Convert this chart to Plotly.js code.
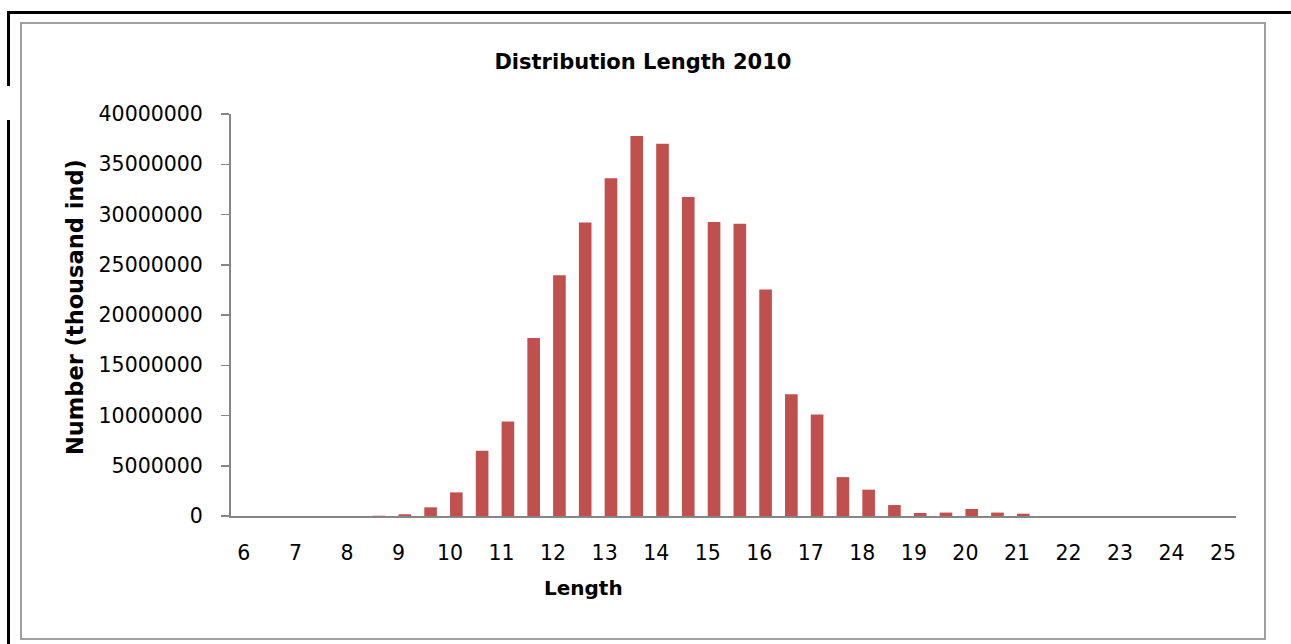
<!DOCTYPE html>
<html>
<head>
<meta charset="utf-8">
<script src="https://cdn.plot.ly/plotly-3.0.1.min.js"></script>
<style>
  html, body { margin: 0; padding: 0; background: #ffffff; }
  #wrap { position: relative; width: 1291px; height: 644px; overflow: hidden; background: #ffffff; }
  #chart { position: absolute; left: 0; top: 0; width: 1291px; height: 644px; }
  .rule { position: absolute; background: #000000; }
  .frame { position: absolute; border: 2px solid #a0a0a0; box-sizing: border-box; pointer-events: none; }
</style>
</head>
<body>
<div id="wrap">
  <div id="chart"></div>
  <!-- page rules around the chart object -->
  <div class="rule" style="left:7px; top:11px; width:1284px; height:3px;"></div>
  <div class="rule" style="left:7px; top:11px; width:3px; height:75px;"></div>
  <div class="rule" style="left:7px; top:120px; width:3px; height:524px;"></div>
  <!-- chart area border -->
  <div class="frame" style="left:20px; top:22px; width:1246px; height:618px;"></div>
</div>
<script>
// Length classes (half-unit steps) and number of individuals (thousand ind)
const lengths = [
  6, 6.5, 7, 7.5, 8, 8.5, 9, 9.5, 10, 10.5,
  11, 11.5, 12, 12.5, 13, 13.5, 14, 14.5, 15, 15.5,
  16, 16.5, 17, 17.5, 18, 18.5, 19, 19.5, 20, 20.5,
  21, 21.5, 22, 22.5, 23, 23.5, 24, 24.5, 25
];
const numbers = [
  0, 0, 0, 0, 0, 30000, 170000, 860000, 2350000, 6490000,
  9400000, 17700000, 23960000, 29200000, 33600000, 37800000, 37040000, 31750000, 29260000, 29070000,
  22540000, 12110000, 10100000, 3870000, 2620000, 1090000, 300000, 340000, 700000, 340000,
  230000, 0, 0, 0, 0, 0, 0, 0, 0
];
const xTickLabels = [6, 7, 8, 9, 10, 11, 12, 13, 14, 15, 16, 17, 18, 19, 20, 21, 22, 23, 24, 25];
const yTickValues = [0, 5000000, 10000000, 15000000, 20000000, 25000000, 30000000, 35000000, 40000000];

const chartTitle = 'Distribution Length 2010';
const xTitle = 'Length';
const yTitle = 'Number (thousand ind)';

const FONT = 'DejaVu Sans, Verdana, sans-serif';
const AXIS_GREY = '#868686';

const trace = {
  type: 'bar',
  x: lengths,
  y: numbers,
  width: 0.245,
  offset: 0,
  marker: { color: '#C0504D', line: { width: 0 } },
  hoverinfo: 'x+y'
};

const layout = {
  width: 1291,
  height: 644,
  margin: { l: 231, r: 55, t: 114, b: 128, pad: 0 },
  paper_bgcolor: 'rgba(0,0,0,0)',
  plot_bgcolor: 'rgba(0,0,0,0)',
  showlegend: false,
  font: { family: FONT, color: '#000000', size: 20.5 },
  title: {
    text: chartTitle,
    x: 0.498,
    xanchor: 'center',
    y: 1 - 62 / 644,
    yanchor: 'middle',
    font: { family: FONT, size: 21, weight: 'bold', color: '#000000' }
  },
  xaxis: {
    type: 'linear',
    range: [5.75, 25.25],
    tickmode: 'array',
    tickvals: xTickLabels,
    ticktext: xTickLabels.map(String),
    ticks: '',
    showgrid: false,
    zeroline: false,
    showline: true,
    linecolor: AXIS_GREY,
    linewidth: 2,
    ticklabelstandoff: 17,
    tickfont: { family: FONT, size: 20.5, color: '#000000' },
    fixedrange: true
  },
  yaxis: {
    range: [0, 40000000],
    tickmode: 'array',
    tickvals: yTickValues,
    ticktext: yTickValues.map(v => String(v)),
    ticks: 'outside',
    ticklen: 8,
    tickwidth: 1.5,
    tickcolor: AXIS_GREY,
    showgrid: false,
    zeroline: false,
    showline: true,
    linecolor: AXIS_GREY,
    linewidth: 2,
    ticklabelstandoff: 14,
    tickfont: { family: FONT, size: 20.5, color: '#000000' },
    fixedrange: true
  },
  annotations: [
    {
      text: xTitle,
      xref: 'paper', yref: 'paper',
      x: (583 - 231) / 1005, y: -(588 - 516) / 402,
      xanchor: 'center', yanchor: 'middle',
      showarrow: false,
      font: { family: FONT, size: 20, weight: 'bold', color: '#000000' }
    },
    {
      text: yTitle,
      xref: 'paper', yref: 'paper',
      x: -(231 - 75) / 1005, y: (516 - 307) / 402,
      xanchor: 'center', yanchor: 'middle',
      textangle: -90,
      showarrow: false,
      font: { family: FONT, size: 22.5, weight: 'bold', color: '#000000' }
    }
  ]
};

Plotly.newPlot('chart', [trace], layout, { displayModeBar: false, staticPlot: true });
</script>
</body>
</html>
